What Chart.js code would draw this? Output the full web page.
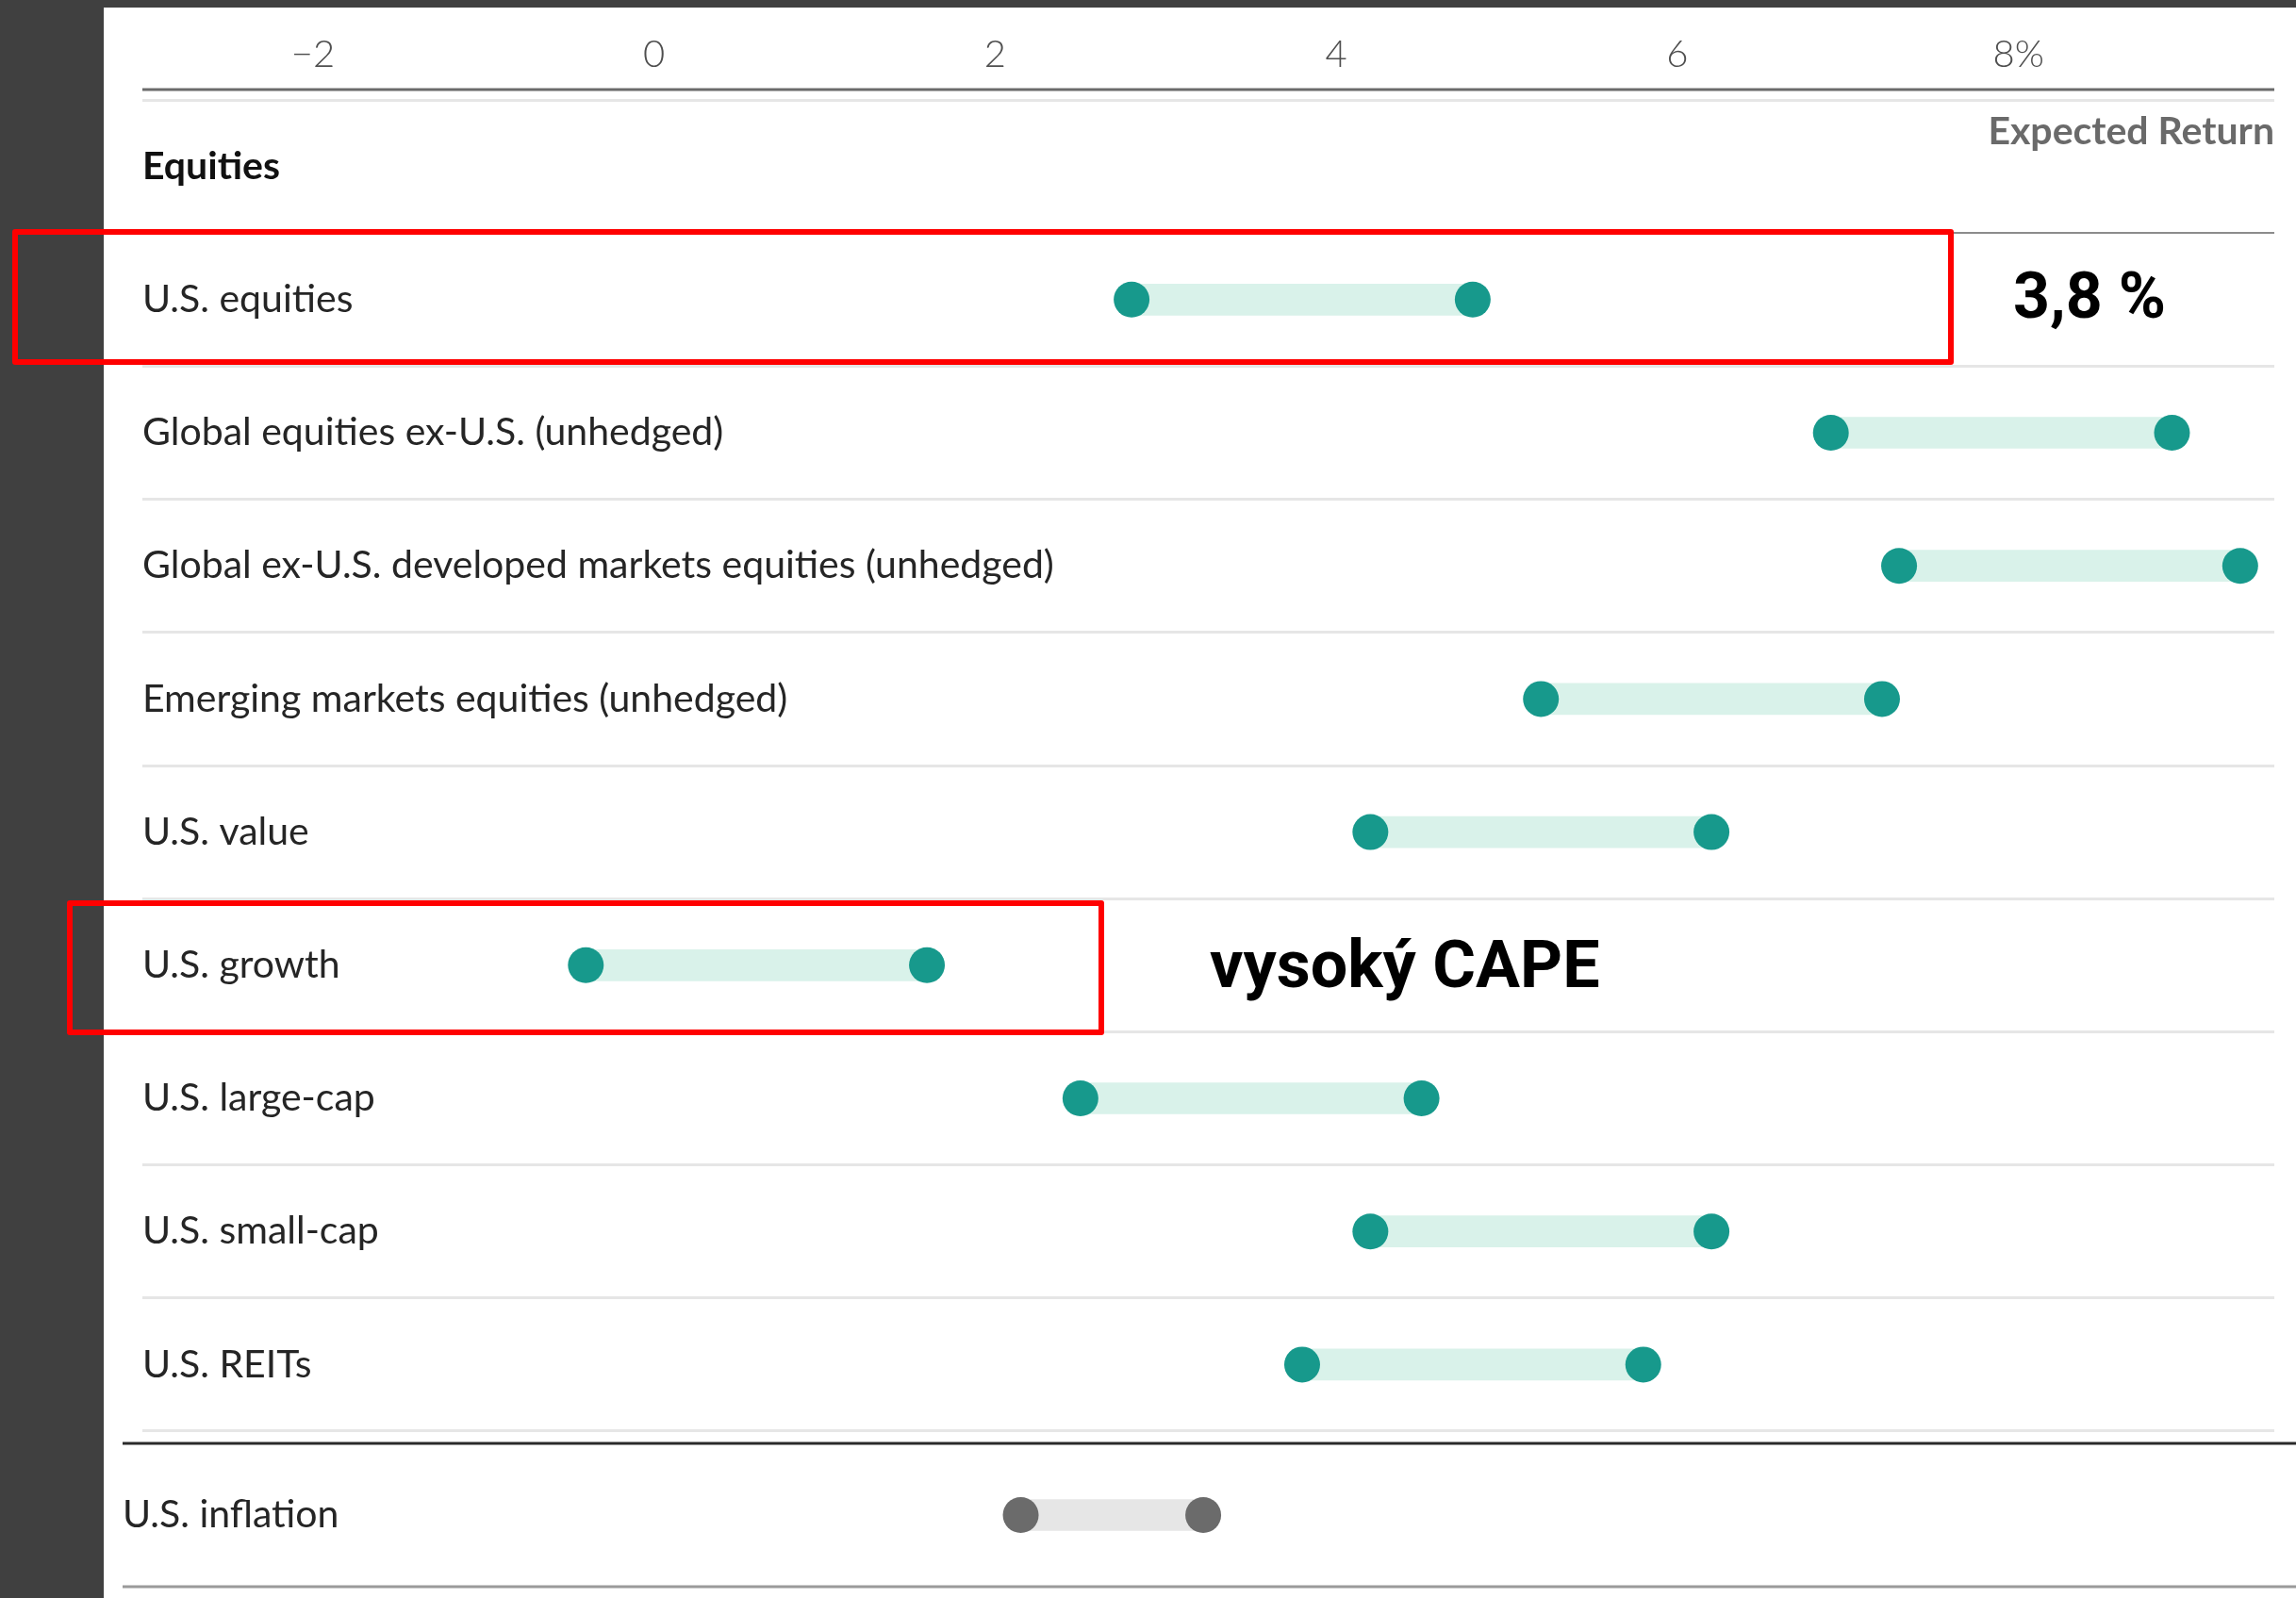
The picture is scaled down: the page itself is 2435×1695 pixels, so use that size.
<!DOCTYPE html>
<html>
<head>
<meta charset="utf-8">
<script src="https://cdn.jsdelivr.net/npm/chart.js@4.4.1/dist/chart.umd.min.js"></script>
<style>
  body { margin: 0; width: 2435px; height: 1695px; background: #404040; position: relative; overflow: hidden; }
  #panel { position: absolute; left: 110px; top: 8px; right: 0; bottom: 0; background: #fff; }
  canvas { position: absolute; left: 110px; }
  #mainChart { top: 8px; }
  #inflChart { top: 1525px; }
  .box { position: absolute; border: 6px solid #ff0000; box-sizing: border-box; border-radius: 3px; }
  .note { position: absolute; font-family: Roboto, sans-serif; font-weight: 700; line-height: 1; color: #000; white-space: nowrap; }
</style>
</head>
<body>
<div id="panel"></div>
<canvas id="mainChart" width="2325" height="1517"></canvas>
<canvas id="inflChart" width="2325" height="170"></canvas>

<div class="box" style="left:13px; top:243px; width:2059px; height:144px;"></div>
<div class="box" style="left:71px; top:955px; width:1100px; height:143px;"></div>
<div class="note" style="left:2135px; top:280px; font-size:68px;">3,8 %</div>
<div class="note" style="left:1283px; top:988px; font-size:70px;">vysoký CAPE</div>

<script>
// data
let categories = ['Equities', 'U.S. equities', 'Global equities ex-U.S. (unhedged)',
    'Global ex-U.S. developed markets equities (unhedged)', 'Emerging markets equities (unhedged)',
    'U.S. value', 'U.S. growth', 'U.S. large-cap', 'U.S. small-cap', 'U.S. REITs'];
let lowReturn  = [null, 2.8, 6.9, 7.3, 5.2, 4.2, -0.4, 2.5, 4.2, 3.8];
let highReturn = [null, 4.8, 8.9, 9.3, 7.2, 6.2, 1.6, 4.5, 6.2, 5.8];

let inflationLabels = ['U.S. inflation'];
let inflationLow  = [2.15];
let inflationHigh = [3.22];

let xTicks = [-2, 0, 2, 4, 6, 8];
let xTickLabels = ['−2', '0', '2', '4', '6', '8%'];

const X_MIN = -3, X_MAX = 9.5;
const TEAL = '#17998c';
const MINT = '#d9f2ea';

function ranges(lo, hi) {
    return lo.map((v, i) => v === null ? null : [v, hi[i]]);
}

// y axis with labels inside the plot area, taking no width
function labelAxis(labels, pad) {
    return {
        type: 'category',
        labels: labels,
        offset: true,
        border: { display: false },
        grid: {
            offset: true,
            drawTicks: false,
            color: ctx => ctx.index === 1 ? '#8c8c8c' : (ctx.index === labels.length ? '#f2f2f2' : '#e6e6e6'),
            lineWidth: ctx => ctx.index === 1 ? 2 : 3
        },
        ticks: {
            mirror: true,
            padding: pad,
            color: ctx => ctx.index === 0 && labels[0] === 'Equities' ? '#111' : '#252525',
            font: ctx => (ctx.index === 0 && labels[0] === 'Equities')
                ? { family: 'Lato', size: 41, weight: 'bold' }
                : { family: 'Lato', size: 41, weight: 'normal' }
        },
        afterFit: s => { s.width = 0; s.paddingTop = 0; s.paddingBottom = 0; }
    };
}

// top rule and "Expected Return" caption
const decorPlugin = {
    id: 'decor',
    afterDraw(chart) {
        const ctx = chart.ctx, a = chart.chartArea;
        ctx.save();
        ctx.strokeStyle = '#6b6b6b';
        ctx.lineWidth = 3;
        ctx.beginPath();
        ctx.moveTo(a.left, a.top - 11);
        ctx.lineTo(a.right, a.top - 11);
        ctx.stroke();
        ctx.font = 'bold 41px Lato';
        ctx.fillStyle = '#6a6a6a';
        ctx.textAlign = 'right';
        ctx.textBaseline = 'alphabetic';
        ctx.fillText('Expected Return', a.right, a.top + 47);
        ctx.restore();
    }
};

new Chart(document.getElementById('mainChart'), {
    data: {
        labels: categories,
        datasets: [
            { type: 'line', data: lowReturn, showLine: false, order: 1,
              pointRadius: 19, pointHoverRadius: 19, pointBorderWidth: 0, pointBackgroundColor: TEAL },
            { type: 'line', data: highReturn, showLine: false, order: 1,
              pointRadius: 19, pointHoverRadius: 19, pointBorderWidth: 0, pointBackgroundColor: TEAL },
            { type: 'bar', data: ranges(lowReturn, highReturn), order: 3,
              backgroundColor: MINT, borderWidth: 0, borderSkipped: false, barThickness: 33 }
        ]
    },
    options: {
        indexAxis: 'y',
        responsive: false,
        animation: false,
        devicePixelRatio: 1,
        layout: { autoPadding: false, padding: { left: 41, right: 23, top: 0, bottom: 7 } },
        plugins: { legend: { display: false }, tooltip: { enabled: false } },
        scales: {
            x: {
                type: 'linear',
                position: 'top',
                min: X_MIN,
                max: X_MAX,
                grid: { display: false },
                border: { display: false },
                afterBuildTicks: s => { s.ticks = xTicks.map(v => ({ value: v })); },
                ticks: {
                    padding: 16,
                    color: '#4f4f4f',
                    font: { family: 'Lato', size: 40, weight: 300 },
                    callback: v => xTickLabels[xTicks.indexOf(v)]
                },
                afterFit: s => { s.height = 98; s.paddingLeft = 0; s.paddingRight = 0; }
            },
            y: labelAxis(categories, 0)
        }
    },
    plugins: [decorPlugin]
});

// separate inflation block, same x scale
const rulePlugin = {
    id: 'rules',
    afterDraw(chart) {
        const ctx = chart.ctx, a = chart.chartArea;
        ctx.save();
        ctx.lineWidth = 3;
        ctx.strokeStyle = '#2a2a2a';
        ctx.beginPath();
        ctx.moveTo(20, a.top);
        ctx.lineTo(chart.width, a.top);
        ctx.stroke();
        ctx.strokeStyle = '#9a9a9a';
        ctx.beginPath();
        ctx.moveTo(20, a.bottom);
        ctx.lineTo(chart.width, a.bottom);
        ctx.stroke();
        ctx.restore();
    }
};

let inflAxis = labelAxis(inflationLabels, -21);
inflAxis.grid = { display: false };

new Chart(document.getElementById('inflChart'), {
    data: {
        labels: inflationLabels,
        datasets: [
            { type: 'line', data: inflationLow, showLine: false, order: 1,
              pointRadius: 19, pointHoverRadius: 19, pointBorderWidth: 0, pointBackgroundColor: '#6b6b6b' },
            { type: 'line', data: inflationHigh, showLine: false, order: 1,
              pointRadius: 19, pointHoverRadius: 19, pointBorderWidth: 0, pointBackgroundColor: '#6b6b6b' },
            { type: 'bar', data: ranges(inflationLow, inflationHigh), order: 3,
              backgroundColor: '#e6e6e6', borderWidth: 0, borderSkipped: false, barThickness: 33 }
        ]
    },
    options: {
        indexAxis: 'y',
        responsive: false,
        animation: false,
        devicePixelRatio: 1,
        layout: { autoPadding: false, padding: { left: 41, right: 23, top: 6, bottom: 12 } },
        plugins: { legend: { display: false }, tooltip: { enabled: false } },
        scales: {
            x: { type: 'linear', min: X_MIN, max: X_MAX, display: false },
            y: inflAxis
        }
    },
    plugins: [rulePlugin]
});
</script>
</body>
</html>
